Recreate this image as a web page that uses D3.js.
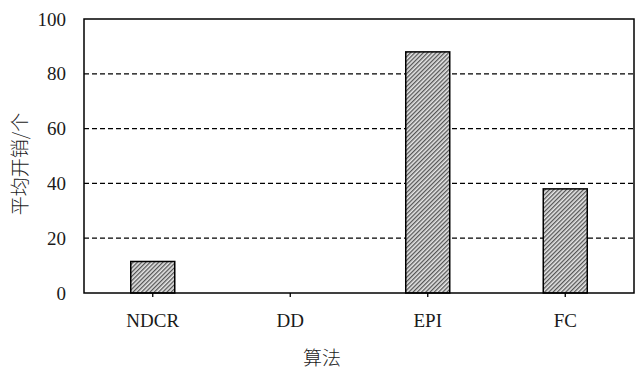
<!DOCTYPE html>
<html><head><meta charset="utf-8">
<script src="https://cdn.jsdelivr.net/npm/d3@7"></script>
<style>body{margin:0;background:#fff}svg{display:block}</style>
</head><body>
<svg id="c" width="638" height="369"></svg>
<script>
const categories = ["NDCR", "DD", "EPI", "FC"];
const values = [11.5, 0, 88, 38];
const yTicks = [0, 20, 40, 60, 80, 100];
const yLabel = "平均开销/个";
const xLabel = "算法";

const svg = d3.select("#c");
const m = {l: 84, r: 634, t: 19, b: 293};
const x = d3.scaleBand().domain(categories).range([m.l, m.r]).paddingInner(0.68).paddingOuter(0.34);
const y = d3.scaleLinear().domain([0, 100]).range([m.b, m.t]);

const defs = svg.append("defs");
const pat = defs.append("pattern").attr("id", "hatch").attr("patternUnits", "userSpaceOnUse")
  .attr("width", 3).attr("height", 3).attr("patternTransform", "rotate(-45)");
pat.append("rect").attr("width", 3).attr("height", 3).attr("fill", "#e6e6e6");
pat.append("rect").attr("width", 3).attr("height", 1.3).attr("fill", "#555");

// grid
svg.append("g").selectAll("line").data(yTicks.filter(d => d > 0 && d < 100)).join("line")
  .attr("x1", m.l).attr("x2", m.r).attr("y1", d => y(d)).attr("y2", d => y(d))
  .attr("stroke", "#000").attr("stroke-width", 1.2).attr("stroke-dasharray", "5,3");

// bars
svg.append("g").selectAll("rect").data(categories.map((c, i) => ({c, v: values[i]})).filter(d => d.v > 0)).join("rect")
  .attr("x", d => x(d.c)).attr("width", x.bandwidth())
  .attr("y", d => y(d.v)).attr("height", d => y(0) - y(d.v))
  .attr("fill", "url(#hatch)").attr("stroke", "#000").attr("stroke-width", 1.5);

// frame
svg.append("rect").attr("x", m.l).attr("y", m.t).attr("width", m.r - m.l).attr("height", m.b - m.t)
  .attr("fill", "none").attr("stroke", "#000").attr("stroke-width", 1.5);

const serif = t => t.style("font-family", '"Liberation Serif"').style("font-size", "19px").attr("fill", "#1a1a1a");

// x axis
const xa = svg.append("g").attr("transform", `translate(0,${m.b})`)
  .call(d3.axisBottom(x).tickSize(4).tickPadding(16.5));
xa.select(".domain").remove();
xa.selectAll("line").attr("stroke-width", 1.3);
serif(xa.selectAll("text"));

// y axis
const ya = svg.append("g").attr("transform", `translate(${m.l},0)`)
  .call(d3.axisLeft(y).tickValues(yTicks).tickSize(0).tickPadding(18));
ya.select(".domain").remove();
serif(ya.selectAll("text"));

const cjk = t => t.style("font-family", '"Noto Sans CJK SC"').style("font-size", "19px").style("font-weight", "300").attr("fill", "#1a1a1a");
cjk(svg.append("text").attr("transform", `translate(27,${(m.t + m.b) / 2 + 8}) rotate(-90)`)
  .attr("text-anchor", "middle").text(yLabel));
cjk(svg.append("text").attr("x", 322).attr("y", 365).attr("text-anchor", "middle").text(xLabel));
</script>
</body></html>
